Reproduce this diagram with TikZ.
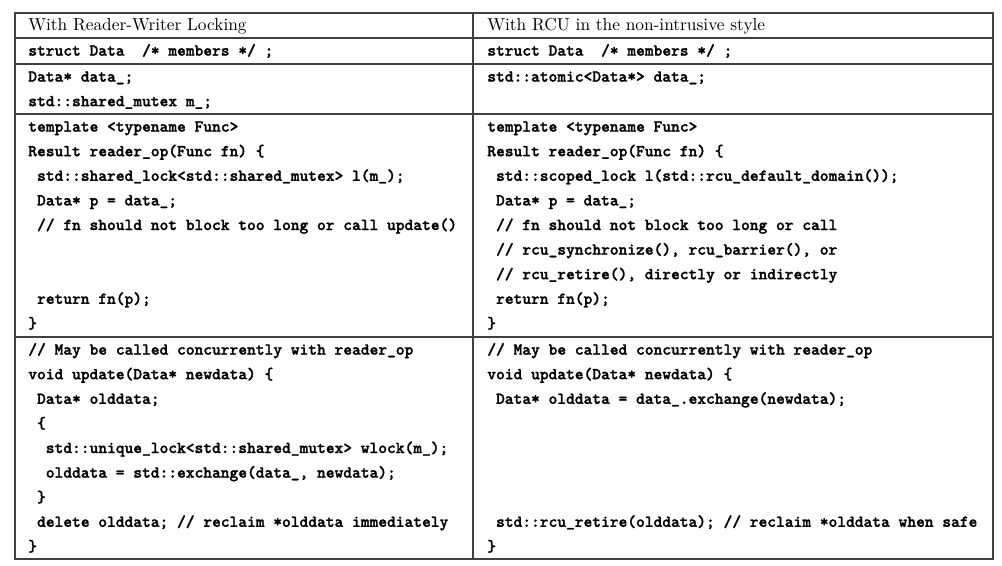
\documentclass[tikz,border=0pt]{standalone}
\usepackage{fontspec}
\setmonofont{lmmonolt10-bold.otf}[FakeBold=1.5]
\begin{document}
\begin{tikzpicture}[x=0.6pt,y=-0.6pt,
    rule/.style={draw=black!75,line width=0.7pt},
    head/.style={anchor=base west,inner sep=0pt,font=\rmfamily\fontsize{10.4}{12}\selectfont},
    code/.style={anchor=base west,inner sep=0pt,align=left,font=\ttfamily\fontsize{10}{14.76}\selectfont}]
    \useasboundingbox (0,0) rectangle (1002,565);
    %% table rules
    \draw[rule] (15,13) rectangle (993,559);
    \foreach \y in {38,64,114,337} \draw[rule] (15,\y) -- (993,\y);
    \draw[rule] (473,13) -- (473,559);
    %% header row
    \node[head] (hdrL) at (28,30.6) {With Reader-Writer Locking};
    \node[head] (hdrR) at (487,30.6) {With RCU in the non-intrusive style};
    %% data type
    \node[code] (structL) at (28,55.6) {struct Data~~/* members */ ;};
    \node[code] (structR) at (487,55.6) {struct Data~~/* members */ ;};
    %% members (base = last line)
    \node[code] (membL) at (28,106.2) {Data* data\_;\\std::shared\_mutex m\_;};
    \node[code] (membR) at (487,81.6) {std::atomic<Data*> data\_;};
    %% reader side
    \node[code] (readL) at (28,328.4) {template <typename Func>\\
        Result reader\_op(Func fn) \{\\
        ~std::shared\_lock<std::shared\_mutex> l(m\_);\\
        ~Data* p = data\_;\\
        ~// fn should not block too long or call update()\\
        ~\\
        ~\\
        ~return fn(p);\\
        \}};
    \node[code] (readR) at (487,328.4) {template <typename Func>\\
        Result reader\_op(Func fn) \{\\
        ~std::scoped\_lock l(std::rcu\_default\_domain());\\
        ~Data* p = data\_;\\
        ~// fn should not block too long or call\\
        ~// rcu\_synchronize(), rcu\_barrier(), or\\
        ~// rcu\_retire(), directly or indirectly\\
        ~return fn(p);\\
        \}};
    %% updater side
    \node[code] (updL) at (28,551.4) {// May be called concurrently with reader\_op\\
        void update(Data* newdata) \{\\
        ~Data* olddata;\\
        ~\{\\
        ~~std::unique\_lock<std::shared\_mutex> wlock(m\_);\\
        ~~olddata = std::exchange(data\_, newdata);\\
        ~\}\\
        ~delete olddata; // reclaim *olddata immediately\\
        \}};
    \node[code] (updR) at (487,551.4) {// May be called concurrently with reader\_op\\
        void update(Data* newdata) \{\\
        ~Data* olddata = data\_.exchange(newdata);\\
        ~\\
        ~\\
        ~\\
        ~\\
        ~std::rcu\_retire(olddata); // reclaim *olddata when safe\\
        \}};
\end{tikzpicture}
\end{document}
